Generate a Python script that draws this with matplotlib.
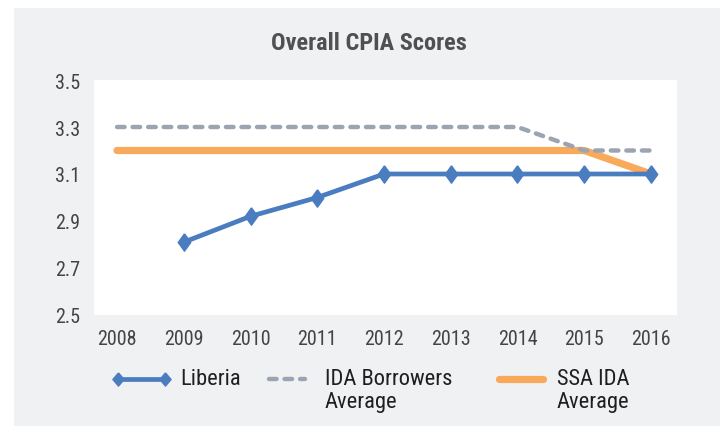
import matplotlib
matplotlib.use("Agg")
import matplotlib.pyplot as plt
from matplotlib.patches import Rectangle
from matplotlib.lines import Line2D
from matplotlib import font_manager as fm

names = {f.name for f in fm.fontManager.ttflist}
FONT = "DejaVu Sans"
for cand in ["Roboto Condensed", "Liberation Sans Narrow", "Open Sans Condensed", "Roboto"]:
    if cand in names:
        FONT = cand
        break
plt.rcParams['font.family'] = [FONT, 'DejaVu Sans']

years = ["2008", "2009", "2010", "2011", "2012", "2013", "2014", "2015", "2016"]
liberia = [None, 2.81, 2.92, 3.0, 3.1, 3.1, 3.1, 3.1, 3.1]
ida_borrowers = [3.3, 3.3, 3.3, 3.3, 3.3, 3.3, 3.3, 3.2, 3.2]
ssa_ida = [3.2, 3.2, 3.2, 3.2, 3.2, 3.2, 3.2, 3.2, 3.1]
yticks = [2.5, 2.7, 2.9, 3.1, 3.3, 3.5]
series_names = ["Liberia", "IDA Borrowers\nAverage", "SSA IDA\nAverage"]

C_LIB = "#4A7CC0"
C_IDA = "#9BA5B1"
C_SSA = "#F9A95A"
BG = "#F0F1F3"

# tall diamond marker (narrower than high)
DIAMOND = [(0, 1), (0.72, 0), (0, -1), (-0.72, 0), (0, 1)]
DIAMOND_LEG = [(0, 1), (0.85, 0), (0, -1), (-0.85, 0), (0, 1)]
DASH = (0, (1.7, 1.8))

W, H = 720, 427
fig = plt.figure(figsize=(W/100, H/100), dpi=100, facecolor="white")
fig.patches.append(Rectangle((14/W, 0), 1, 1 - 9/H, transform=fig.transFigure,
                             facecolor=BG, edgecolor="none", zorder=-10))

ax = fig.add_axes([94/W, 1 - 316/H, (677-94)/W, (316-81)/H])
ax.set_facecolor("white")
x = list(range(len(years)))

ax.plot(x, ssa_ida, color=C_SSA, lw=5.2, solid_capstyle="round", solid_joinstyle="round", zorder=2)
ax.plot(x, ida_borrowers, color=C_IDA, lw=3.2, linestyle=DASH,
        dash_capstyle="round", zorder=3)
lx = [i for i, v in zip(x, liberia) if v is not None]
ly = [v for v in liberia if v is not None]
ax.plot(lx, ly, color=C_LIB, lw=3.4, marker=DIAMOND, markersize=12.5, zorder=4,
        solid_joinstyle="round")

ax.set_xlim(-0.345, 8.39)
ax.set_ylim(2.5, 3.5)
ax.set_xticks(x, years)
ax.set_yticks(yticks, [f"{v:.1f}" for v in yticks])
for s in ax.spines.values():
    s.set_visible(False)
ax.tick_params(length=0, labelsize=14.5, colors="#444444")
ax.tick_params(axis="x", pad=10)
ax.tick_params(axis="y", pad=10)

fig.text(369/W, 1 - 43/H, "Overall CPIA Scores", ha="center", va="center",
         fontsize=17.5, fontweight="bold", color="#505050")

# legend
ly0 = 1 - 380/H
handles = [
    dict(x0=118, x1=165, color=C_LIB, lw=3.4, ls="-", marker=True, tx=180),
    dict(x0=269, x1=305, color=C_IDA, lw=3.2, ls=DASH, marker=False, tx=325),
    dict(x0=499, x1=543, color=C_SSA, lw=5.2, ls="-", marker=False, tx=557),
]
for h, name in zip(handles, series_names):
    line = Line2D([h["x0"]/W, h["x1"]/W], [ly0, ly0], transform=fig.transFigure,
                  color=h["color"], lw=h["lw"], linestyle=h["ls"],
                  solid_capstyle="round" if not h["marker"] else "butt",
                  dash_capstyle="round")
    fig.add_artist(line)
    if h["marker"]:
        fig.add_artist(Line2D([h["x0"]/W, h["x1"]/W], [ly0, ly0], transform=fig.transFigure,
                              color=h["color"], lw=0, marker=DIAMOND_LEG, markersize=9.5))
    fig.text(h["tx"]/W, 1 - 369/H, name, ha="left", va="top", fontsize=16.2,
             color="#1F1F1F", linespacing=1.1)

fig.savefig("out.png", dpi=100, facecolor=fig.get_facecolor())
